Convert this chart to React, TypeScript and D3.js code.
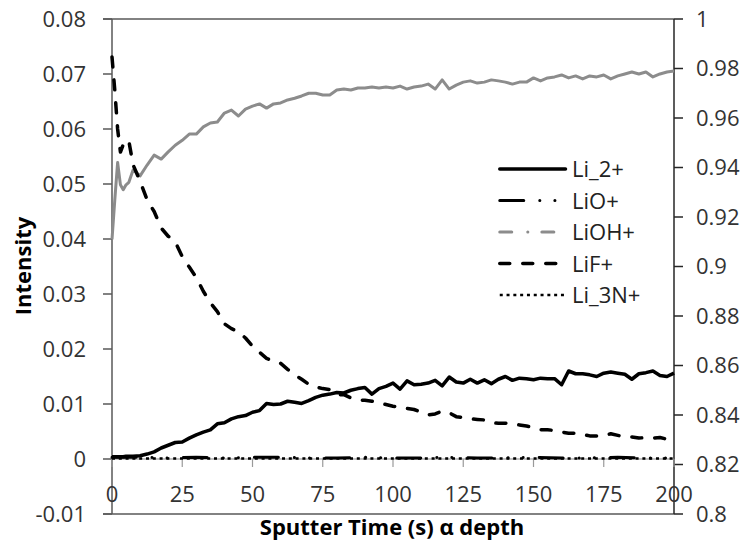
import React from "react";
import * as d3 from "d3";

// ---- data ----
const timeFine = [0, 1, 2, 3, 4, 5, 6, 7.5, 10, 12.5, 15, 17.5, 20, 22.5, 25, 27.5, 30, 32.5, 35, 37.5, 40, 42.5, 45, 47.5, 50, 52.5, 55, 57.5, 60, 62.5, 65, 67.5, 70, 72.5, 75, 77.5, 80, 82.5, 85, 87.5, 90, 92.5, 95, 97.5, 100, 102.5, 105, 107.5, 110, 112.5, 115, 117.5, 120, 122.5, 125, 127.5, 130, 132.5, 135, 137.5, 140, 142.5, 145, 147.5, 150, 152.5, 155, 157.5, 160, 162.5, 165, 167.5, 170, 172.5, 175, 177.5, 180, 182.5, 185, 187.5, 190, 192.5, 195, 197.5, 200];

const li2 = [0.0004, 0.0004, 0.0004, 0.0004, 0.0004, 0.0005, 0.0005, 0.0005, 0.0006, 0.0009, 0.0013, 0.002, 0.0025, 0.003, 0.0031, 0.0038, 0.0044, 0.0049, 0.0053, 0.0064, 0.0066, 0.0073, 0.0077, 0.0079, 0.0085, 0.0088, 0.0101, 0.0099, 0.01, 0.0105, 0.0103, 0.0101, 0.0106, 0.0112, 0.0116, 0.0118, 0.0121, 0.012, 0.0125, 0.0128, 0.013, 0.0118, 0.0128, 0.0132, 0.0138, 0.0127, 0.0142, 0.0135, 0.0136, 0.0138, 0.0143, 0.0133, 0.0149, 0.014, 0.0138, 0.0145, 0.0138, 0.0144, 0.0137, 0.0145, 0.015, 0.0143, 0.0147, 0.0146, 0.0144, 0.0147, 0.0146, 0.0146, 0.0135, 0.016, 0.0155, 0.0155, 0.0153, 0.015, 0.0156, 0.0158, 0.0156, 0.0154, 0.0145, 0.0155, 0.0157, 0.016, 0.0152, 0.015, 0.0156];

const lif = [0.0731, 0.067, 0.06, 0.0558, 0.0572, 0.058, 0.0578, 0.0535, 0.0505, 0.0471, 0.045, 0.042, 0.0405, 0.0395, 0.0368, 0.0349, 0.033, 0.0305, 0.0284, 0.0268, 0.0246, 0.0237, 0.0231, 0.022, 0.0205, 0.0194, 0.0183, 0.0178, 0.0174, 0.0163, 0.0153, 0.0145, 0.0136, 0.0131, 0.0128, 0.0126, 0.0117, 0.0117, 0.0111, 0.0107, 0.0107, 0.0105, 0.0102, 0.0099, 0.0096, 0.0094, 0.0092, 0.009, 0.0085, 0.008, 0.0082, 0.0087, 0.0084, 0.0077, 0.0075, 0.0073, 0.0072, 0.0071, 0.0066, 0.0065, 0.0065, 0.0063, 0.0062, 0.006, 0.0057, 0.0053, 0.0053, 0.0052, 0.0049, 0.0047, 0.0047, 0.0045, 0.0042, 0.0042, 0.0042, 0.0046, 0.0043, 0.004, 0.004, 0.0038, 0.0039, 0.0038, 0.0039, 0.0036, 0.0036];

// secondary-axis series (grey curve)
const liohRight = [0.911, 0.927, 0.942, 0.933, 0.931, 0.933, 0.934, 0.939, 0.9366, 0.941, 0.945, 0.9434, 0.9463, 0.949, 0.951, 0.9535, 0.9535, 0.9564, 0.958, 0.9584, 0.962, 0.9632, 0.9608, 0.9636, 0.9648, 0.9657, 0.964, 0.9657, 0.9661, 0.9673, 0.968, 0.9689, 0.97, 0.97, 0.9693, 0.9693, 0.9713, 0.9717, 0.9713, 0.9721, 0.9721, 0.9725, 0.9721, 0.9725, 0.9721, 0.9729, 0.9717, 0.9725, 0.9729, 0.9737, 0.9717, 0.9754, 0.9717, 0.9733, 0.9745, 0.975, 0.9741, 0.9745, 0.9754, 0.975, 0.9745, 0.9737, 0.9745, 0.9745, 0.9762, 0.975, 0.9762, 0.9766, 0.9774, 0.9762, 0.977, 0.9758, 0.977, 0.9766, 0.9774, 0.9758, 0.977, 0.9778, 0.9786, 0.9778, 0.9786, 0.9766, 0.9778, 0.9786, 0.979];

const timeCoarse = [0, 10, 20, 30, 40, 50, 60, 70, 80, 90, 100, 110, 120, 130, 140, 150, 160, 170, 180, 190, 200];
const lio = [0.0003, 0.0003, 0.0002, 0.0003, 0.0002, 0.0003, 0.0003, 0.0002, 0.0002, 0.0003, 0.0002, 0.0002, 0.0003, 0.0002, 0.0002, 0.0003, 0.0002, 0.0002, 0.0003, 0.0002, 0.0002];
const li3n = [0.0001, 0.0001, 0.0001, 0.0001, 0.0001, 0.0001, 0.0001, 0.0001, 0.0001, 0.0001, 0.0001, 0.0001, 0.0001, 0.0001, 0.0001, 0.0001, 0.0001, 0.0001, 0.0001, 0.0001, 0.0001];

const xTicks = [0, 25, 50, 75, 100, 125, 150, 175, 200];
const leftTicks = [-0.01, 0, 0.01, 0.02, 0.03, 0.04, 0.05, 0.06, 0.07, 0.08];
const rightTicks = [0.8, 0.82, 0.84, 0.86, 0.88, 0.9, 0.92, 0.94, 0.96, 0.98, 1];
const legendNames = ["Li_2+", "LiO+", "LiOH+", "LiF+", "Li_3N+"];

const FONT = "'Open Sans', 'Noto Sans', sans-serif";

const styles: Record<string, { stroke: string; width: number; dash?: string; cap: "round" | "butt" }> = {
  "Li_2+": { stroke: "#000", width: 3.5, cap: "round" },
  "LiO+": { stroke: "#000", width: 3, dash: "24,16,0.1,15,0.1,16", cap: "round" },
  "LiOH+": { stroke: "#8c8c8c", width: 3, dash: "12,16,0.1,14", cap: "round" },
  "LiF+": { stroke: "#000", width: 3.5, dash: "10,13", cap: "round" },
  "Li_3N+": { stroke: "#000", width: 2.5, dash: "3,3.8", cap: "butt" },
};

export default function App() {
  const W = 751, H = 550;
  const x = d3.scaleLinear().domain([0, 200]).range([112, 674]);
  const yL = d3.scaleLinear().domain([-0.01, 0.08]).range([514, 19]);
  const yR = d3.scaleLinear().domain([0.8, 1]).range([514, 19]);

  const lineL = (ts: number[], vs: number[]) =>
    d3.line<number>().x((_, i) => x(ts[i])).y((v) => yL(v)).curve(d3.curveLinear)(vs) || "";
  const lineR = (ts: number[], vs: number[]) =>
    d3.line<number>().x((_, i) => x(ts[i])).y((v) => yR(v)).curve(d3.curveLinear)(vs) || "";

  const fmtL = (v: number) => (Math.abs(v) < 1e-9 ? "0" : v.toFixed(2));
  const fmtR = (v: number) => String(+v.toFixed(2));

  const legendX0 = 499.75, legendX1 = 565.5, legendTextX = 572;
  const legendY = (i: number) => 169 + i * 31.5;

  return (
    <svg width={W} height={H} style={{ position: "absolute", left: 0, top: 0, background: "#fff" }}>
      <rect x={0} y={0} width={W} height={H} fill="#fff" />
      {/* frame */}
      <line x1={103} x2={674} y1={yL(0.08)} y2={yL(0.08)} stroke="#595959" strokeWidth={1.5} />
      <line x1={103} x2={674} y1={yL(-0.01)} y2={yL(-0.01)} stroke="#595959" strokeWidth={1.5} />
      <line x1={x(0)} x2={x(0)} y1={19} y2={514} stroke="#595959" strokeWidth={1.5} />
      <line x1={x(200)} x2={x(200)} y1={19} y2={514} stroke="#262626" strokeWidth={1.5} />
      {/* left ticks */}
      {leftTicks.map((t) => (
        <g key={"l" + t}>
          <line x1={103} x2={112} y1={yL(t)} y2={yL(t)} stroke="#595959" strokeWidth={1.5} />
          <text x={86} y={yL(t)} dy="0.36em" textAnchor="end" fontFamily={FONT} fontSize={22} fill="#333">
            {fmtL(t)}
          </text>
        </g>
      ))}
      {/* right ticks */}
      {rightTicks.map((t) => (
        <g key={"r" + t}>
          <line x1={674} x2={683} y1={yR(t)} y2={yR(t)} stroke="#262626" strokeWidth={1.5} />
          <text x={696} y={yR(t)} dy="0.36em" textAnchor="start" fontFamily={FONT} fontSize={22} fill="#333">
            {fmtR(t)}
          </text>
        </g>
      ))}
      {/* x axis at 0 */}
      <line x1={x(0)} x2={x(200)} y1={yL(0)} y2={yL(0)} stroke="#8a8a8a" strokeWidth={1.2} />
      {xTicks.map((t) => (
        <g key={"x" + t}>
          <line x1={x(t)} x2={x(t)} y1={yL(0)} y2={yL(0) + 8} stroke="#9a9a9a" strokeWidth={1.2} />
          <text x={x(t)} y={502} textAnchor="middle" fontFamily={FONT} fontSize={22} fill="#333">
            {t}
          </text>
        </g>
      ))}
      {/* series */}
      <path d={lineL(timeCoarse, li3n)} fill="none" stroke={styles["Li_3N+"].stroke} strokeWidth={styles["Li_3N+"].width} strokeDasharray={styles["Li_3N+"].dash} />
      <path d={lineL(timeCoarse, lio)} fill="none" stroke={styles["LiO+"].stroke} strokeWidth={styles["LiO+"].width} strokeDasharray={styles["LiO+"].dash} strokeLinecap="round" />
      <path d={lineR(timeFine, liohRight)} fill="none" stroke="#8c8c8c" strokeWidth={3} strokeLinejoin="round" />
      <path d={lineL(timeFine, lif)} fill="none" stroke="#000" strokeWidth={3.5} strokeDasharray={styles["LiF+"].dash} strokeLinecap="round" strokeLinejoin="round" />
      <path d={lineL(timeFine, li2)} fill="none" stroke="#000" strokeWidth={3.5} strokeLinejoin="round" />
      {/* legend */}
      {legendNames.map((n, i) => {
        const s = styles[n];
        return (
          <g key={n}>
            <line x1={legendX0} x2={legendX1} y1={legendY(i)} y2={legendY(i)} stroke={s.stroke} strokeWidth={s.width} strokeDasharray={s.dash} strokeLinecap={s.cap} />
            <text x={legendTextX} y={legendY(i) + 8} fontFamily={FONT} fontSize={22} fill="#222">
              {n}
            </text>
          </g>
        );
      })}
      {/* titles */}
      <text x={392} y={535} textAnchor="middle" fontFamily={FONT} fontWeight="bold" fontSize={22} fill="#000">
        Sputter Time (s) α depth
      </text>
      <text transform="translate(31,266) rotate(-90)" textAnchor="middle" fontFamily={FONT} fontWeight="bold" fontSize={22} fill="#000">
        Intensity
      </text>
    </svg>
  );
}
